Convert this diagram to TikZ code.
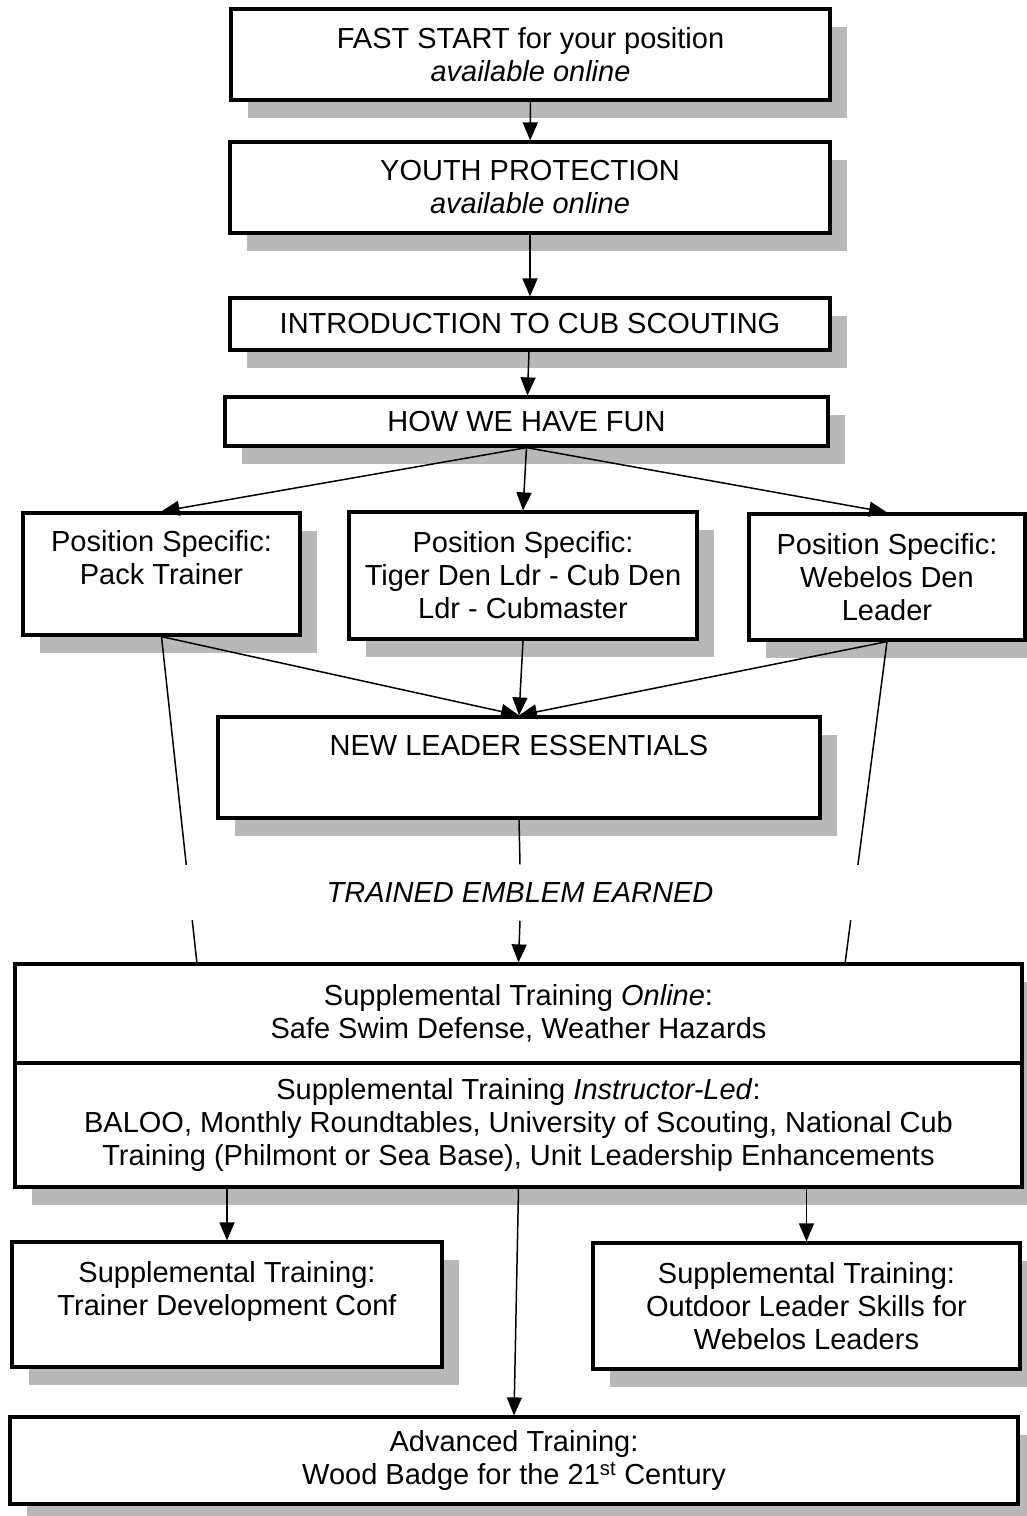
\documentclass[tikz,border=0pt]{standalone}
\usepackage{fontspec}
\setmainfont{Liberation Sans}
\usetikzlibrary{arrows.meta, positioning, shadows}

\tikzset{
    box/.style = {draw, line width = 3.2pt, fill = white, align = center,
        drop shadow = {shadow xshift = 17pt, shadow yshift = -18pt, fill = black!28, opacity = 1}},
    size/.style 2 args = {minimum width = #1pt, minimum height = #2pt},
}

\begin{document}
\begin{tikzpicture}[->, > = {Triangle[length = 18pt, width = 15pt]}, line width = 1.5pt, x = 1pt, y = -1pt,
    every node/.style = {font = \fontsize{29}{33}\selectfont}]
    \useasboundingbox (0,0) rectangle (1027,1516);

    \node[box, size = {599}{91}]	(fast)		at (530.5,54.5)	{FAST START for your position\\\textit{available online}};
    \node[box, size = {600}{91}]	(ypt)		at (530,187.5)	{YOUTH PROTECTION\\\textit{available online}};
    \node[box, size = {600}{52}]	(intro)		at (530,324)	{INTRODUCTION TO CUB SCOUTING};
    \node[box, size = {603}{49}]	(fun)		at (526.5,421.5)	{HOW WE HAVE FUN};
    \node[box, size = {277}{122}]	(pack)		at (161.5,574)	{Position Specific:\\Pack Trainer\\~};
    \node[box, size = {348}{127}]	(tiger)		at (523,575.5)	{Position Specific:\\Tiger Den Ldr - Cub Den\\Ldr - Cubmaster};
    \node[box, size = {276}{126}]	(webelos)	at (887,577)	{Position Specific:\\Webelos Den\\Leader};
    \node[box, size = {602}{101}]	(nle)		at (519,767.5)	{NEW LEADER ESSENTIALS\\[12pt]~};
    \node[box, size = {1007}{99}]	(supon)		at (518.5,1013.5)	{Supplemental Training \textit{Online}:\\Safe Swim Defense, Weather Hazards};
    \node[box, size = {1007}{124}]	(supled)	at (518.5,1125)	{Supplemental Training \textit{Instructor-Led}:\\BALOO, Monthly Roundtables, University of Scouting, National Cub\\Training (Philmont or Sea Base), Unit Leadership Enhancements};
    \node[box, size = {430}{125}]	(tdc)		at (227,1304.5)	{Supplemental Training:\\Trainer Development Conf\\~};
    \node[box, size = {427}{126}]	(ols)		at (806.5,1306)	{Supplemental Training:\\Outdoor Leader Skills for\\Webelos Leaders};
    \node[box, size = {1008}{87}]	(adv)		at (514,1460.5)	{Advanced Training:\\Wood Badge for the 21\textsuperscript{st} Century};

    \path	(fast)	edge	(ypt);
    \path	(ypt)	edge	(intro);
    \path	(intro)	edge	(fun);
    \path	(fun.south)	edge	(pack.north);
    \path	(fun.south)	edge	(tiger.north);
    \path	(fun.south)	edge	(webelos.north);
    \path	(pack.south)	edge	(nle.north);
    \path	(tiger.south)	edge	(nle.north);
    \path	(webelos.south)	edge	(nle.north);

    % long side lines, broken by the emblem label
    \coordinate (lfoot) at (197,964);
    \coordinate (rfoot) at (845,964);
    \path	(pack.south)	edge[-]	(lfoot);
    \path	(webelos.south)	edge[-]	(rfoot);
    \node[fill = white, size = {1000}{55}]	(emblem)	at (520,892.5)	{\textit{TRAINED EMBLEM EARNED}};
    \path	(nle.south)	edge[-]	(emblem.north);
    \path	(emblem.south)	edge	(supon.north);

    \path	(supled.south -| tdc.north)	edge	(tdc.north);
    \path	(supled.south -| ols.north)	edge	(ols.north);
    \path	(supled.south)	edge	(adv.north);
\end{tikzpicture}
\end{document}
